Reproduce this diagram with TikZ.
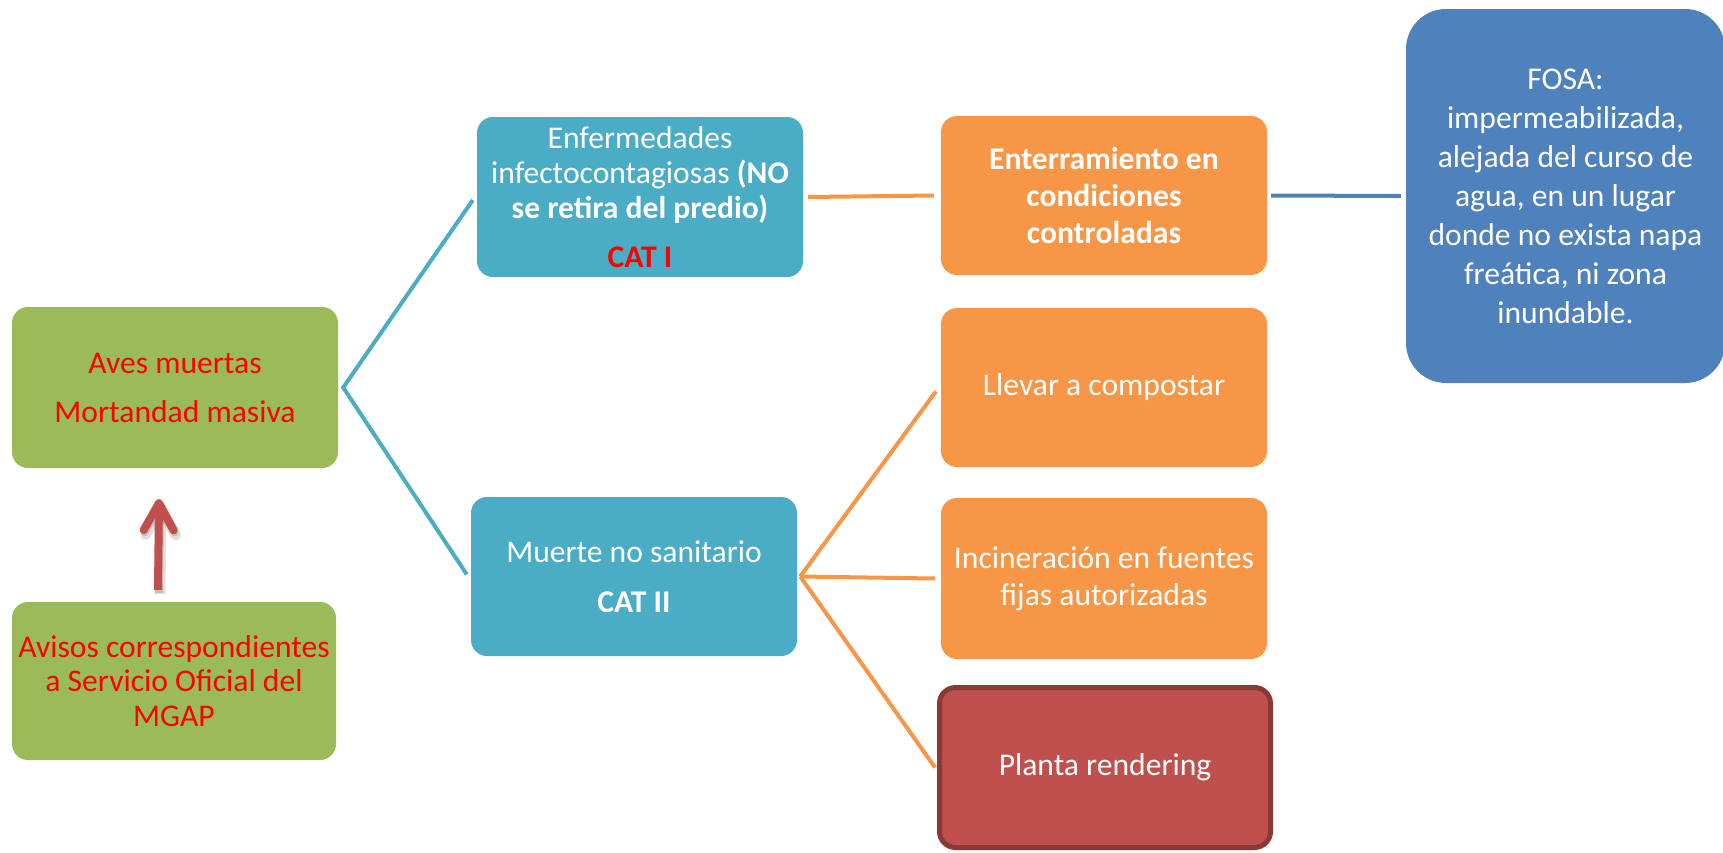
\documentclass[tikz,border=0pt]{standalone}
\usepackage{fontspec}
\setmainfont{Carlito}
\usetikzlibrary{arrows.meta}
\definecolor{cgreen}{HTML}{9BBB59}
\definecolor{cteal}{HTML}{4BACC6}
\definecolor{corange}{HTML}{F79646}
\definecolor{cblue}{HTML}{4F81BD}
\definecolor{cred}{HTML}{C0504D}
\definecolor{cdark}{HTML}{8C3836}
\definecolor{ctxtred}{HTML}{FF0000}
\begin{document}
\begin{tikzpicture}[x=1pt,y=-1pt,
  box/.style={rectangle, rounded corners=16pt, inner sep=0pt, align=center, text=white,
    minimum width=326pt, minimum height=160pt},
  fnt/.style={font=\fontsize{31.6pt}{#1}\selectfont},
  tealline/.style={draw=cteal, line width=4pt},
  orline/.style={draw=corange, line width=4pt},
  blline/.style={draw=cblue, line width=4pt},
  uparrow/.style={line width=8pt, -{Straight Barb[round, length=27pt, width=30pt]}}]
\useasboundingbox (0,0) rectangle (1723,852);

% left column
\node[box, fill=cgreen, text=ctxtred, minimum height=161pt, fnt=38.6pt] (ave) at (175,387.5)
  {Aves muertas\\[10.4pt]Mortandad masiva};
\node[box, fill=cgreen, text=ctxtred, minimum width=324pt, minimum height=158pt, fnt=34.5pt] (avi) at (174,681)
  {Avisos correspondientes\\a Servicio Oficial del\\MGAP};

% middle column
\node[box, fill=cteal, fnt=35pt] (enf) at (640,197)
  {Enfermedades\\infectocontagiosas \textbf{(NO}\\\textbf{se retira del predio)}\\[14pt]\textcolor{ctxtred}{\textbf{CAT I}}};
\node[box, fill=cteal, minimum height=159pt, fnt=38.6pt] (mue) at (634,576.5)
  {Muerte no sanitario\\[11pt]\textbf{CAT II}};

% right column
\node[box, fill=corange, minimum height=159pt, fnt=37pt] (ent) at (1104,195.5)
  {\textbf{Enterramiento en}\\\textbf{condiciones}\\\textbf{controladas}};
\node[box, fill=corange, minimum height=159pt, fnt=38.6pt] (lle) at (1104,387.5)
  {Llevar a compostar};
\node[box, fill=corange, minimum height=161pt, fnt=37pt] (inc) at (1104,578.5)
  {Incineración en fuentes\\fijas autorizadas};
\node[box, fill=cred, draw=cdark, line width=5pt, minimum width=331pt, minimum height=160pt, fnt=38.6pt] (pla) at (1105,767.5)
  {Planta rendering};

% far right
\node[box, fill=cblue, rounded corners=40pt, minimum width=319pt, minimum height=374pt, fnt=39pt] (fos) at (1565.5,196)
  {FOSA:\\impermeabilizada,\\alejada del curso de\\agua, en un lugar\\donde no exista napa\\freática, ni zona\\inundable.};

% junctions
\coordinate (j1) at ([xshift=5pt]ave.east);
\coordinate (j2) at ([xshift=3pt]mue.east);

% connectors
\draw[tealline, line join=miter] ([xshift=-4pt,yshift=-3pt]enf.west) -- (j1) -- ([xshift=-4pt,yshift=2pt]mue.west);
\draw[orline] ([xshift=5pt]enf.east) -- ([xshift=-7pt]ent.west);
\draw[blline] ([xshift=4pt]ent.east) -- ([xshift=-5pt]fos.west);
\draw[orline] (j2) -- ([xshift=-5pt,yshift=-4pt]lle.west);
\draw[orline] (j2) -- ([xshift=-6pt]inc.west);
\draw[orline] (j2) -- ([xshift=-2pt]pla.west);

% arrow with soft shadow
\draw[uparrow, black, opacity=0.12, line width=11pt]
  ([xshift=-14pt,yshift=8pt]avi.north) -- ([xshift=-14pt,yshift=-34pt]ave.south);
\draw[uparrow, black, opacity=0.15]
  ([xshift=-15pt,yshift=9pt]avi.north) -- ([xshift=-15pt,yshift=-33pt]ave.south);
\draw[uparrow, cred]
  ([xshift=-16pt,yshift=12pt]avi.north) -- ([xshift=-16pt,yshift=-31pt]ave.south);
\end{tikzpicture}
\end{document}
